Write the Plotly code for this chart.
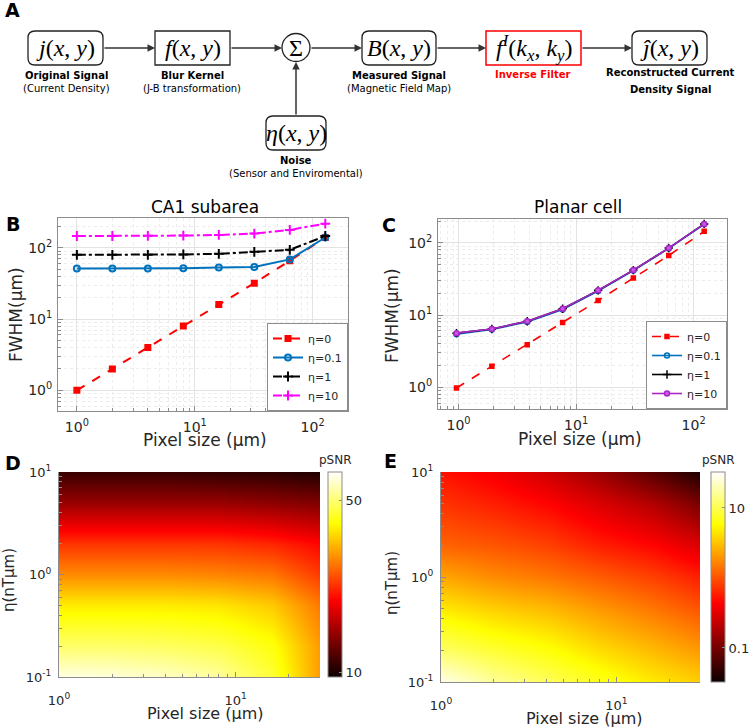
import numpy as np
import plotly.graph_objects as go

W, H = 750, 727

# ---------------- data ----------------
pixel_b = [1, 2, 4, 8, 16, 32, 64, 128]
fwhm_b_eta0 = [1, 2, 4, 8, 16, 32, 66, 140]
fwhm_b_eta01 = [51.5, 51.5, 51.5, 52, 53, 54, 69, 140]
fwhm_b_eta1 = [80, 80, 80, 81, 82.5, 88, 94, 147]
fwhm_b_eta10 = [147, 147, 148, 149, 152, 159, 179, 219]

pixel_c = [0.96, 1.92, 3.84, 7.68, 15.4, 30.7, 61.4, 123]
fwhm_c_eta0 = [0.97, 1.94, 3.87, 7.9, 15.9, 32.6, 67, 145]
fwhm_c_eta01 = [5.4, 6.3, 8.0, 11.9, 21.5, 41.5, 84, 182]
fwhm_c_eta1 = [5.6, 6.4, 8.2, 12.2, 22, 42, 85, 184]
fwhm_c_eta10 = [5.6, 6.4, 8.2, 12.2, 22, 42, 85, 184]

legend_names = ["\u03b7=0", "\u03b7=0.1", "\u03b7=1", "\u03b7=10"]

map_pixel = [1, 2, 4, 8, 16, 30]
map_eta = [0.1, 0.2, 0.5, 1, 2, 5, 10]
# pSNR, rows = eta (ascending), cols = pixel size
psnr_d = [
    [61.8, 60.7, 58.4, 54.0, 44.6, 30.3],
    [49.1, 49.1, 48.2, 46.3, 41.3, 30.3],
    [38.2, 38.2, 38.2, 37.5, 34.7, 27.6],
    [29.2, 29.2, 29.2, 28.7, 27.6, 23.2],
    [22.8, 22.8, 22.8, 22.8, 21.9, 19.9],
    [14.6, 14.6, 14.6, 14.6, 14.1, 13.6],
    [11.0, 11.0, 11.0, 10.8, 10.6, 10.2],
]
psnr_e = [
    [28.4, 16.4, 10.8, 7.14, 4.72, 3.58],
    [11.6, 8.2, 6.22, 4.11, 2.91, 2.06],
    [4.72, 3.58, 2.91, 2.06, 1.46, 1.03],
    [2.37, 1.79, 1.46, 1.11, 0.84, 0.59],
    [1.19, 1.03, 0.84, 0.59, 0.45, 0.30],
    [0.73, 0.59, 0.45, 0.30, 0.197, 0.106],
    [0.52, 0.39, 0.26, 0.149, 0.075, 0.040],
]
cbar_d_ticks = [10, 50]
cbar_e_ticks = [0.1, 10]

# ---------------- helpers ----------------
def fx(px):
    return px / W

def fy(py):
    return 1 - py / H

TXT = "#262626"
AX = "#8c8c8c"
FONT = "DejaVu Sans"

hot = [[0, "rgb(11,0,0)"], [0.375, "rgb(255,0,0)"],
       [0.75, "rgb(255,255,0)"], [1, "rgb(255,255,255)"]]

fig = go.Figure()

# ---------------- panel B ----------------
styles_b = [
    dict(color="red", dash="dash", symbol="square", mcolor="red", size=5),
    dict(color="rgb(0,114,189)", dash="solid", symbol="circle-open", mcolor="rgb(0,114,189)", size=6),
    dict(color="black", dash="dashdot", symbol="cross-thin-open", mcolor="black", size=7),
    dict(color="magenta", dash="dashdot", symbol="cross-thin-open", mcolor="magenta", size=7),
]
for name, ys, st in zip(legend_names, [fwhm_b_eta0, fwhm_b_eta01, fwhm_b_eta1, fwhm_b_eta10], styles_b):
    fig.add_trace(go.Scatter(
        x=pixel_b, y=ys, name=name, mode="lines+markers", xaxis="x", yaxis="y",
        line=dict(color=st["color"], dash=st["dash"], width=2),
        marker=dict(symbol=st["symbol"], size=st["size"], color=st["mcolor"],
                    line=dict(color=st["mcolor"], width=2)),
        legend="legend"))

# ---------------- panel C ----------------
styles_c = [
    dict(color="red", dash="dash", symbol="square", mcolor="red", size=4),
    dict(color="rgb(0,114,189)", dash="solid", symbol="circle-open", mcolor="rgb(0,114,189)", size=5),
    dict(color="black", dash="solid", symbol="cross-thin-open", mcolor="black", size=6),
    dict(color="rgb(170,40,200)", dash="solid", symbol="circle", mcolor="rgb(200,90,230)", size=5),
]
for name, ys, st in zip(legend_names, [fwhm_c_eta0, fwhm_c_eta01, fwhm_c_eta1, fwhm_c_eta10], styles_c):
    fig.add_trace(go.Scatter(
        x=pixel_c, y=ys, name=name, mode="lines+markers", xaxis="x2", yaxis="y2",
        line=dict(color=st["color"], dash=st["dash"], width=1.6),
        marker=dict(symbol=st["symbol"], size=st["size"], color=st["mcolor"],
                    line=dict(color=st["color"], width=1.5)),
        legend="legend2"))

# ---------------- panels D, E ----------------
def cbar(x, y0, y1, vals, texts):
    return dict(x=fx(x), xanchor="left", xref="paper",
                y=(fy(y0) + fy(y1)) / 2, yanchor="middle", yref="paper",
                len=(y1 - y0) / H, lenmode="fraction", thickness=14, thicknessmode="pixels",
                xpad=0, ypad=0, outlinewidth=1, outlinecolor=AX,
                tickmode="array", tickvals=vals, ticktext=texts,
                ticks="inside", ticklen=3, tickcolor=AX,
                tickfont=dict(family=FONT, size=13, color=TXT))

fig.add_trace(go.Heatmap(
    x=map_pixel, y=map_eta, z=np.log10(np.array(psnr_d)), xaxis="x3", yaxis="y3",
    zsmooth="best", colorscale=hot, zmin=np.log10(9.6), zmax=np.log10(65),
    colorbar=cbar(328, 472, 677, list(np.log10(cbar_d_ticks)), [str(v) for v in cbar_d_ticks]),
    hoverinfo="skip"))
fig.add_trace(go.Heatmap(
    x=map_pixel, y=map_eta, z=np.log10(np.array(psnr_e)), xaxis="x4", yaxis="y4",
    zsmooth="best", colorscale=hot, zmin=-1.486, zmax=1.514,
    colorbar=cbar(711, 472, 682, list(np.log10(cbar_e_ticks)), [str(v) for v in cbar_e_ticks]),
    hoverinfo="skip"))

# ---------------- axes ----------------
def minor_vals(lo, hi):
    out = []
    for d in range(lo, hi):
        for m in range(2, 10):
            out.append(m * 10 ** d)
    return out

def lbl(p):
    return "10<sup>%s</sup>" % (str(p) if p >= 0 else "-" + str(-p))

def line_axis(dom, rng, majors, minors, anchor, standoff):
    return dict(type="log", domain=dom, range=rng, anchor=anchor,
                tickmode="array", tickvals=[10 ** p for p in majors],
                ticktext=[lbl(p) for p in majors],
                showline=True, linecolor=AX, linewidth=1, mirror=True,
                ticks="inside", ticklen=5, tickcolor=AX,
                showgrid=True, gridcolor="#e3e3e3", gridwidth=1,
                minor=dict(tickvals=minors, showgrid=True, gridcolor="#ececec",
                           griddash="dot", ticks="inside", ticklen=3, tickcolor=AX),
                tickfont=dict(family=FONT, size=14, color=TXT),
                ticklabelstandoff=standoff, zeroline=False, automargin=False)

def map_axis(dom, rng, majors, minors, anchor, standoff):
    return dict(type="log", domain=dom, range=rng, anchor=anchor,
                tickmode="array", tickvals=[10 ** p for p in majors],
                ticktext=[lbl(p) for p in majors],
                showline=True, linecolor=AX, linewidth=1, mirror=False,
                ticks="inside", ticklen=5, tickcolor=AX, showgrid=False,
                minor=dict(tickvals=minors, ticks="inside", ticklen=3, tickcolor=AX, showgrid=False),
                tickfont=dict(family=FONT, size=13, color=TXT),
                ticklabelstandoff=standoff, zeroline=False, automargin=False)

fig.update_layout(
    xaxis=line_axis([fx(58), fx(348)], [-0.16, 2.30], [0, 1, 2], minor_vals(0, 2), "y", 3),
    yaxis=line_axis([fy(411), fy(218)], [-0.29, 2.42], [0, 1, 2], minor_vals(-1, 3), "x", 2),
    xaxis2=line_axis([fx(438), fx(727)], [-0.175, 2.284], [0, 1, 2], minor_vals(-1, 2), "y2", 3),
    yaxis2=line_axis([fy(409), fy(219)], [-0.305, 2.333], [0, 1, 2], minor_vals(-1, 3), "x2", 2),
    xaxis3=map_axis([fx(59), fx(320)], [0, np.log10(30)], [0, 1], minor_vals(0, 2), "y3", 11),
    yaxis3=map_axis([fy(677), fy(472)], [-1, 1], [-1, 0, 1], minor_vals(-1, 1), "x3", 4),
    xaxis4=map_axis([fx(441), fx(700)], [0, np.log10(30)], [0, 1], minor_vals(0, 2), "y4", 11),
    yaxis4=map_axis([fy(682), fy(472)], [-1, 1], [-1, 0, 1], minor_vals(-1, 1), "x4", 4),
    xaxis5=dict(domain=[0, 1], range=[0, W], visible=False, anchor="y5", fixedrange=True),
    yaxis5=dict(domain=[fy(190), 1], range=[190, 0], visible=False, anchor="x5", fixedrange=True),
)

legend_common = dict(bgcolor="white", bordercolor=AX, borderwidth=1,
                     font=dict(family=FONT, size=11, color=TXT),
                     xref="paper", yref="paper", xanchor="right", yanchor="bottom",
                     itemwidth=30, tracegroupgap=0)
fig.update_layout(
    legend=dict(x=fx(348), y=fy(411), **legend_common),
    legend2=dict(x=fx(727), y=fy(409), **legend_common),
)

# ---------------- panel A : block diagram ----------------
def rrect(x0, y0, x1, y1, r):
    return (f"M{x0+r},{y0} L{x1-r},{y0} Q{x1},{y0} {x1},{y0+r} L{x1},{y1-r} "
            f"Q{x1},{y1} {x1-r},{y1} L{x0+r},{y1} Q{x0},{y1} {x0},{y1-r} "
            f"L{x0},{y0+r} Q{x0},{y0} {x0+r},{y0} Z")

shapes = []
rounded_boxes = [(28, 31, 103, 65), (362, 31, 436, 65), (632, 31, 707, 65), (266, 116, 326, 150)]
for b in rounded_boxes:
    shapes.append(dict(type="path", path=rrect(*b, 7), xref="x5", yref="y5",
                       line=dict(color="#222", width=1.3)))
shapes.append(dict(type="rect", x0=155, y0=31, x1=230, y1=65, xref="x5", yref="y5",
                   line=dict(color="#222", width=1.3)))
shapes.append(dict(type="rect", x0=486, y0=31, x1=581, y1=65, xref="x5", yref="y5",
                   line=dict(color="red", width=1.5)))
shapes.append(dict(type="circle", x0=282, y0=33.5, x1=310, y1=61.5, xref="x5", yref="y5",
                   line=dict(color="#222", width=1.3)))
fig.update_layout(shapes=shapes)

ann = []
arrows = [((103, 48), (155, 48)), ((230, 48), (282, 48)), ((310, 48), (362, 48)),
          ((436, 48), (486, 48)), ((581, 48), (632, 48)), ((296, 116), (296, 62))]
for (tx, ty), (hx, hy) in arrows:
    ann.append(dict(x=hx, y=hy, ax=tx, ay=ty, xref="x5", yref="y5", axref="x5", ayref="y5",
                    text="", showarrow=True, arrowhead=2, arrowsize=1, arrowwidth=1.5,
                    arrowcolor="#333", standoff=0, startstandoff=0))

MATH = "Liberation Serif"
math_labels = [
    (65.5, 48, "<i>j</i>(<i>x</i>, <i>y</i>)"),
    (192.5, 48, "<i>f</i>(<i>x</i>, <i>y</i>)"),
    (296, 48, "\u03a3"),
    (399, 48, "<i>B</i>(<i>x</i>, <i>y</i>)"),
    (533.5, 48, "<i>f</i><sup><i>I</i></sup>(<i>k</i><sub><i>x</i></sub>, <i>k</i><sub><i>y</i></sub>)"),
    (669.5, 48, "<i>\u0135</i>(<i>x</i>, <i>y</i>)"),
    (296, 133, "<i>\u03b7</i>(<i>x</i>, <i>y</i>)"),
]
for x, y, t in math_labels:
    ann.append(dict(x=x, y=y, xref="x5", yref="y5", text=t, showarrow=False,
                    font=dict(family=MATH, size=24, color="black"),
                    xanchor="center", yanchor="middle"))

text_labels = [
    (66, 75, "<b>Original Signal</b>", "black"),
    (66, 88, "(Current Density)", "black"),
    (192, 75, "<b>Blur Kernel</b>", "black"),
    (192, 88, "(J-B transformation)", "black"),
    (399, 75, "<b>Measured Signal</b>", "black"),
    (399, 88, "(Magnetic Field Map)", "black"),
    (533, 74, "<b>Inverse Filter</b>", "red"),
    (670, 72.5, "<b>Reconstructed Current</b>", "black"),
    (670, 89, "<b>Density Signal</b>", "black"),
    (296, 160, "<b>Noise</b>", "black"),
    (296, 173, "(Sensor and Enviromental)", "black"),
]
for x, y, t, c in text_labels:
    ann.append(dict(x=x, y=y, xref="x5", yref="y5", text=t, showarrow=False,
                    font=dict(family=FONT, size=10, color=c),
                    xanchor="center", yanchor="middle"))

def pa(x, y, t, size, angle=0, color="black", bold=False):
    return dict(x=fx(x), y=fy(y), xref="paper", yref="paper",
                text=("<b>%s</b>" % t) if bold else t, showarrow=False, textangle=angle,
                font=dict(family=FONT, size=size, color=color),
                xanchor="center", yanchor="middle")

ann += [
    pa(12, 10, "A", 19, bold=True),
    pa(13, 224, "B", 19, bold=True),
    pa(389, 225, "C", 19, bold=True),
    pa(13, 463, "D", 19, bold=True),
    pa(390, 461, "E", 19, bold=True),
    pa(205, 207, "CA1 subarea", 17),
    pa(578, 207, "Planar cell", 17),
    pa(16, 315, "FWHM(\u03bcm)", 17, angle=-90, color=TXT),
    pa(392, 315, "FWHM(\u03bcm)", 17, angle=-90, color=TXT),
    pa(205, 440, "Pixel size (\u03bcm)", 17, color=TXT),
    pa(580, 439, "Pixel size (\u03bcm)", 17, color=TXT),
    pa(9, 580, "\u03b7(nT\u03bcm)", 15, angle=-90, color=TXT),
    pa(392, 583, "\u03b7(nT\u03bcm)", 15, angle=-90, color=TXT),
    pa(205, 713, "Pixel size (\u03bcm)", 16, color=TXT),
    pa(584, 718, "Pixel size (\u03bcm)", 16, color=TXT),
    pa(335, 460, "pSNR", 12, color=TXT),
    pa(718, 460, "pSNR", 12, color=TXT),
]
fig.update_layout(annotations=ann)

fig.update_layout(width=W, height=H, margin=dict(l=0, r=0, t=0, b=0, pad=0, autoexpand=False),
                  paper_bgcolor="white", plot_bgcolor="white",
                  font=dict(family=FONT, color=TXT))

fig.write_html("out.html", config={"displayModeBar": False},
               post_script="document.body.style.margin='0';")
